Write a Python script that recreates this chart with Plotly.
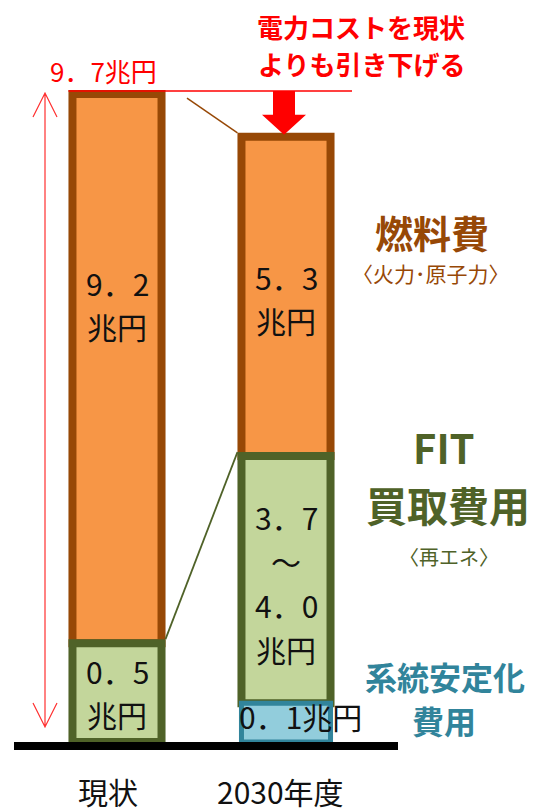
import plotly.graph_objects as go

# ---------------- data (drawn heights) ----------------
categories = ["現状", "2030年度"]
fuel_height = [8.22, 4.78]   # 燃料費 segment (drawn height)
fit_height = [1.48, 3.70]    # FIT買取費用 segment (drawn height)
grid_height = [0.0, 0.58]    # 系統安定化費用 segment (drawn height)
fuel_text = [["9．2", "兆円"], ["5．3", "兆円"]]
fit_text = [["0．5", "兆円"], ["3．7", "～", "4．0", "兆円"]]
grid_text = ["", "0．1兆円"]
total_text = "9．7兆円"

# ---------------- geometry helpers (screen pixels) ----------------
W, H = 545, 812
PLOT_BOTTOM = 750
PX = 66.8          # pixels per y unit
PXX = 169.0        # pixels per x unit
X0 = 117.0         # screen x of first category
Y0 = 742.0         # screen y of baseline
BW = 0.527         # bar width in x units
LW = 8             # bar border width px

def Y(p):
    return (Y0 - p) / PX

def X(p):
    return (p - X0) / PXX

def YP(p):
    return (PLOT_BOTTOM - p) / PLOT_BOTTOM

FONT = "Noto Sans CJK JP"
ORANGE, BROWN = "#F79646", "#974806"
GREEN, OLIVE = "#C3D69B", "#4F6228"
BLUE, TEAL = "#92CDDC", "#31849B"
RED = "#FF0000"

xs = [0, 1]
fit_base = grid_height
fuel_base = [g + f for g, f in zip(grid_height, fit_height)]
totals = [b + h for b, h in zip(fuel_base, fuel_height)]

fig = go.Figure()
fig.add_trace(go.Bar(x=xs, y=fuel_height, base=fuel_base, width=BW,
                     marker=dict(color=ORANGE, line=dict(color=BROWN, width=LW)),
                     hoverinfo="skip"))
fig.add_trace(go.Bar(x=xs, y=fit_height, base=fit_base, width=BW,
                     marker=dict(color=GREEN, line=dict(color=OLIVE, width=LW)),
                     hoverinfo="skip"))
gx = [x for x, g in zip(xs, grid_height) if g > 0]
gy = [g for g in grid_height if g > 0]
fig.add_trace(go.Bar(x=gx, y=gy, base=[0] * len(gy), width=BW,
                     marker=dict(color=BLUE, line=dict(color=TEAL, width=5)),
                     hoverinfo="skip"))

half_out = BW / 2 + (LW / 2) / PXX
shapes = []
# baseline
shapes.append(dict(type="rect", xref="x", yref="y", x0=X(14), x1=X(398), y0=-8 / PX, y1=0,
                   fillcolor="black", line=dict(width=0), layer="above"))
# red reference line at current total
red_y = totals[0] + 3 / PX
shapes.append(dict(type="line", xref="x", yref="y", x0=xs[0] - half_out, x1=X(352),
                   y0=red_y, y1=red_y, line=dict(color=RED, width=1.5), layer="above"))
# red down arrow
ax = xs[1] - 2 / PXX
sh, hh = 11 / PXX, 22 / PXX
tip = totals[1] + 2 / PX
hs = tip + 20 / PX
path = (f"M {ax - sh},{red_y} L {ax + sh},{red_y} L {ax + sh},{hs} L {ax + hh},{hs} "
        f"L {ax},{tip} L {ax - hh},{hs} L {ax - sh},{hs} Z")
shapes.append(dict(type="path", xref="x", yref="y", path=path, fillcolor=RED,
                   line=dict(width=0), layer="above"))
# brown connector
shapes.append(dict(type="line", xref="x", yref="y", x0=X(187), y0=totals[0] - 4 / PX,
                   x1=xs[1] - half_out, y1=totals[1] + 4 / PX,
                   line=dict(color=BROWN, width=1.5), layer="above"))
# green connector
shapes.append(dict(type="line", xref="x", yref="y", x0=xs[0] + half_out, y0=fuel_base[0] + 4 / PX,
                   x1=xs[1] - half_out, y1=fuel_base[1] + 4 / PX,
                   line=dict(color=OLIVE, width=1.8), layer="above"))
# left double arrow
lx = X(45)
ytop, ybot = Y(93), Y(727)
wx, wy = 12 / PXX, 24 / PX
dpath = (f"M {lx},{ybot} L {lx},{ytop} "
         f"M {lx - wx},{ytop - wy} L {lx},{ytop} L {lx + wx},{ytop - wy} "
         f"M {lx - wx},{ybot + wy} L {lx},{ybot} L {lx + wx},{ybot + wy}")
shapes.append(dict(type="path", xref="x", yref="y", path=dpath,
                   line=dict(color="#FF3030", width=1.2), layer="above"))

ann = []

def txt(x, y, s, size, color, bold=False, yref="y"):
    ann.append(dict(x=x, y=y, xref="x", yref=yref, text=f"<b>{s}</b>" if bold else s,
                    showarrow=False, xanchor="center", yanchor="middle", borderpad=0,
                    font=dict(family=FONT, size=size, color=color)))

def lines(x, center_px, items, size, color, step=43, bold=False):
    n = len(items)
    for i, s in enumerate(items):
        p = center_px + (i - (n - 1) / 2) * step
        txt(x, Y(p), s, size, color, bold)

# bar labels
lines(xs[0], 304, fuel_text[0], 30, "#111111")
lines(xs[1], 298, fuel_text[1], 30, "#111111")
lines(xs[0], 692.5, fit_text[0], 30, "#111111")
lines(xs[1], 583, fit_text[1], 30, "#111111", step=44)
txt(X(300), Y(716), grid_text[1], 30, "#111111")

# category labels (below the plot area, paper-referenced vertically)
txt(X(108), YP(791), categories[0], 30, "#111111", yref="paper")
txt(X(280), YP(791), categories[1], 30, "#111111", yref="paper")

# totals / headline
txt(X(103), Y(70), total_text, 26, RED)
lines(X(361), 44.5, ["電力コストを現状", "よりも引き下げる"], 26, RED, step=37, bold=True)

# side labels
txt(X(432), Y(231), "燃料費", 38, BROWN, bold=True)
txt(X(431), Y(273), "〈火力･原子力〉", 21, BROWN)
txt(X(444), Y(447), "FIT", 40, OLIVE, bold=True)
txt(X(448), Y(504), "買取費用", 41, OLIVE, bold=True)
txt(X(449), Y(556), "〈再エネ〉", 20, OLIVE)
txt(X(445), Y(676), "系統安定化", 32, TEAL, bold=True)
txt(X(444), Y(720), "費用", 32, TEAL, bold=True)

fig.update_layout(
    width=W, height=H,
    margin=dict(l=0, r=0, t=0, b=H - PLOT_BOTTOM),
    paper_bgcolor="white", plot_bgcolor="white",
    barmode="overlay", showlegend=False, bargap=0,
    shapes=shapes, annotations=ann,
    font=dict(family=FONT),
    xaxis=dict(range=[X(0), X(W)], showticklabels=False,
               showgrid=False, zeroline=False, showline=False, ticks="", fixedrange=True),
    yaxis=dict(range=[-8 / PX, Y(0)], visible=False, fixedrange=True),
)

fig.write_html("out.html", config={"displayModeBar": False, "staticPlot": True},
               post_script="document.body.style.margin='0';document.body.style.overflow='hidden';")
